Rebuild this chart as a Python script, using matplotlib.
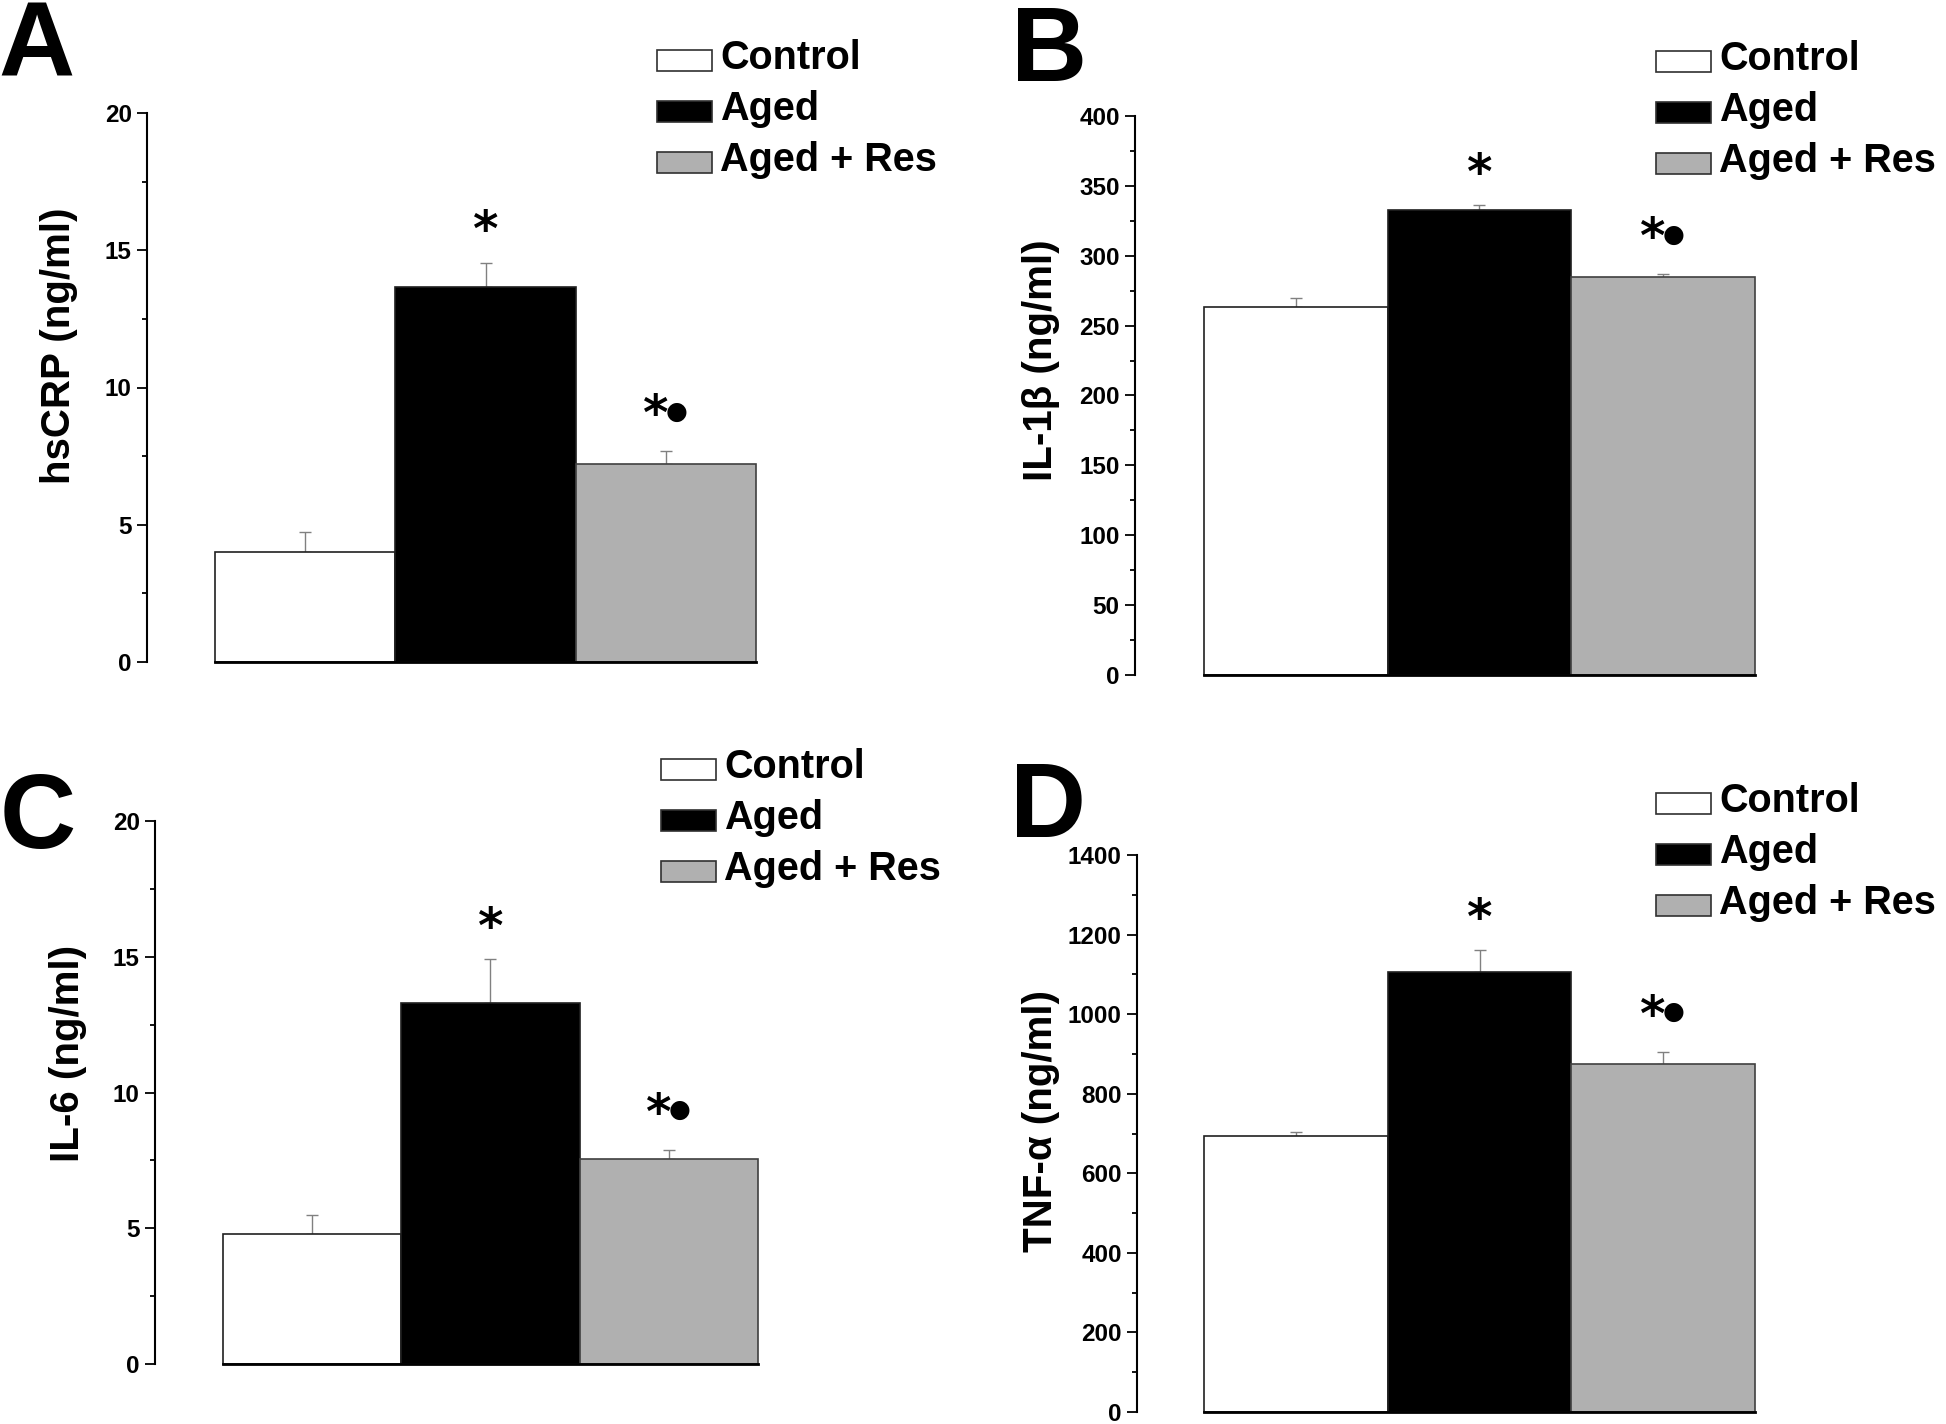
import matplotlib
matplotlib.use("Agg")
import matplotlib.pyplot as plt
from matplotlib.patches import Rectangle
from matplotlib.ticker import MultipleLocator

plt.rcParams["font.family"] = ["Liberation Sans", "DejaVu Sans"]
plt.rcParams["font.weight"] = "bold"

W, H = 1946, 1424

groups = ["Control", "Aged", "Aged + Res"]
bar_colors = ["white", "black", "#b0b0b0"]
edge_colors = ["#202020", "#202020", "#404040"]

# mean and upper error (ng/ml)
hscrp_mean = [4.0, 13.65, 7.2]
hscrp_err = [0.75, 0.9, 0.48]
il1b_mean = [263.5, 332.5, 284.5]
il1b_err = [6.0, 3.5, 2.3]
il6_mean = [4.8, 13.3, 7.55]
il6_err = [0.7, 1.6, 0.35]
tnfa_mean = [694, 1107, 874]
tnfa_err = [9, 53, 32]

# significance marks: * vs control, dot vs aged
star = [False, True, True]
dot = [False, False, True]

panels = [
    # letter, ylabel, mean, err, ymax, major, minor
    ("A", "hsCRP (ng/ml)", hscrp_mean, hscrp_err, 20, 5, 2.5),
    ("B", "IL-1\u03b2 (ng/ml)", il1b_mean, il1b_err, 400, 50, 25),
    ("C", "IL-6 (ng/ml)", il6_mean, il6_err, 20, 5, 2.5),
    ("D", "TNF-\u03b1 (ng/ml)", tnfa_mean, tnfa_err, 1400, 200, 100),
]

# layout in pixels: axis x, first bar left, last bar right, y top, y zero,
# ylabel right edge, ylabel centre, legend box x/y, letter x/baseline
layout = [
    dict(ax=147, bl=215, br=756, yt=113, y0=662, lr=78, lc=346, lx=657, ly=50, px=-2, pb=76),
    dict(ax=1135, bl=1204, br=1755, yt=116, y0=675, lr=1060, lc=360, lx=1656, ly=51, px=1011, pb=81),
    dict(ax=155, bl=223, br=758, yt=821, y0=1364, lr=87, lc=1053, lx=661, ly=759, px=0, pb=848),
    dict(ax=1137, bl=1204, br=1755, yt=855, y0=1412, lr=1060, lc=1121, lx=1656, ly=793, px=1010, pb=837),
]

fig = plt.figure(figsize=(W / 100, H / 100), dpi=100)

for (letter, ylabel, mean, err, ymax, major, minor), L in zip(panels, layout):
    bw = (L["br"] - L["bl"]) / 3
    gap = (L["bl"] - L["ax"]) / bw
    rect = [L["ax"] / W, 1 - L["y0"] / H, (L["br"] - L["ax"]) / W, (L["y0"] - L["yt"]) / H]
    ax = fig.add_axes(rect)
    x = range(len(groups))
    ax.bar(x, mean, width=1.0, color=bar_colors, edgecolor=edge_colors,
           linewidth=1.2, clip_on=False, zorder=2)
    ax.errorbar(x, mean, yerr=[[0] * len(err), err], fmt="none", ecolor="#808080",
                elinewidth=1.0, capsize=4, capthick=1.0, zorder=1, clip_on=False)
    for i in x:
        top = mean[i] + err[i]
        if star[i] and not dot[i]:
            ax.annotate("*", (i, top), xytext=(0, 22), textcoords="offset points",
                        ha="center", va="center", fontsize=35,
                        family="DejaVu Sans", fontweight="bold")
        elif star[i]:
            ax.annotate("*", (i, top), xytext=(-7.5, 25), textcoords="offset points",
                        ha="center", va="center", fontsize=35,
                        family="DejaVu Sans", fontweight="bold")
            ax.annotate("\u25cf", (i, top), xytext=(7.5, 28.5), textcoords="offset points",
                        ha="center", va="center", fontsize=18,
                        family="DejaVu Sans")

    ax.set_xlim(-0.5 - gap, 2.5)
    ax.set_ylim(0, ymax)
    ax.spines["top"].set_visible(False)
    ax.spines["right"].set_visible(False)
    ax.spines["bottom"].set_bounds(-0.5, 2.5)
    ax.spines["bottom"].set_linewidth(2.0)
    ax.spines["left"].set_linewidth(1.5)
    ax.set_xticks([])
    ax.yaxis.set_major_locator(MultipleLocator(major))
    ax.yaxis.set_minor_locator(MultipleLocator(minor))
    ax.tick_params(axis="y", which="major", length=7, width=1.3, labelsize=17.5, pad=4)
    ax.tick_params(axis="y", which="minor", length=3.6, width=1.3)
    ax.set_ylabel(ylabel, fontsize=29, fontweight="bold")
    ax_w = L["br"] - L["ax"]
    ax.yaxis.set_label_coords((L["lr"] - L["ax"]) / ax_w,
                              (L["y0"] - L["lc"]) / (L["y0"] - L["yt"]))

    # legend boxes
    for k, name in enumerate(groups):
        by = L["ly"] + k * 51
        fig.add_artist(Rectangle((L["lx"] / W, 1 - (by + 21) / H), 55 / W, 21 / H,
                                 transform=fig.transFigure, facecolor=bar_colors[k],
                                 edgecolor="#303030", linewidth=1.2))
        fig.text((L["lx"] + 63) / W, 1 - (by + 19) / H, name, fontsize=28.5,
                 fontweight="bold", va="baseline", ha="left")

    fig.text(L["px"] / W, 1 - L["pb"] / H, letter, fontsize=76, fontweight="bold",
             va="baseline", ha="left")

fig.savefig("out.png", dpi=100)
